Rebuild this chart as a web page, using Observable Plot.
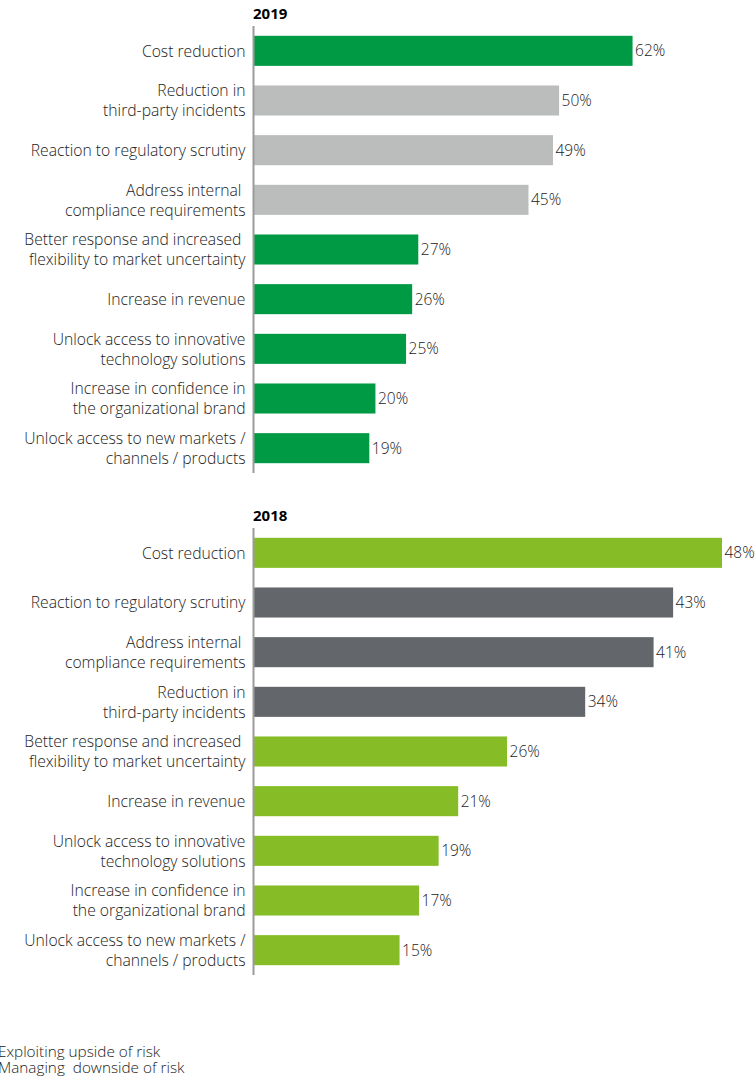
<!DOCTYPE html>
<html>
<head>
<meta charset="utf-8">
<script src="https://cdn.jsdelivr.net/npm/d3@7"></script>
<script src="https://cdn.jsdelivr.net/npm/@observablehq/plot@0.6"></script>
<style>
  html, body { margin: 0; padding: 0; background: #fff; }
  body { width: 755px; height: 1080px; position: relative; overflow: hidden; font-family: "Open Sans", sans-serif; }
  .panel { position: absolute; left: 0; width: 755px; z-index: 1; }
  .title { position: absolute; left: 253px; font-weight: 700; font-size: 15px; color: #000; line-height: 16px; z-index: 2; }
  .legend { position: absolute; left: -2px; top: 1043px; font-size: 15.3px; font-weight: 300; color: #222; line-height: 16px; z-index: 2; white-space: nowrap; }
  .legend div { height: 16px; }
  svg text { font-weight: 300; }
</style>
</head>
<body>
<div class="title" style="top:5px">2019</div>
<div class="panel" id="p2019" style="top:0px"></div>
<div class="title" style="top:507px">2018</div>
<div class="panel" id="p2018" style="top:502px"></div>
<div class="legend"><div>Exploiting upside of risk</div><div>Managing&nbsp; downside of risk</div></div>
<script>
const categories2019 = [
  "Cost reduction",
  "Reduction in\nthird-party incidents",
  "Reaction to regulatory scrutiny",
  "Address internal \ncompliance requirements",
  "Better response and increased \nflexibility to market uncertainty",
  "Increase in revenue",
  "Unlock access to innovative\ntechnology solutions",
  "Increase in confidence in\nthe organizational brand",
  "Unlock access to new markets /\nchannels / products"
];
const values2019 = [62, 50, 49, 45, 27, 26, 25, 20, 19];
const types2019 = ["upside", "downside", "downside", "downside", "upside", "upside", "upside", "upside", "upside"];

const categories2018 = [
  "Cost reduction",
  "Reaction to regulatory scrutiny",
  "Address internal \ncompliance requirements",
  "Reduction in\nthird-party incidents",
  "Better response and increased \nflexibility to market uncertainty",
  "Increase in revenue",
  "Unlock access to innovative\ntechnology solutions",
  "Increase in confidence in\nthe organizational brand",
  "Unlock access to new markets /\nchannels / products"
];
const values2018 = [48, 43, 41, 34, 26, 21, 19, 17, 15];
const types2018 = ["upside", "downside", "downside", "downside", "upside", "upside", "upside", "upside", "upside"];

const colors2019 = {upside: "#009a44", downside: "#bbbcbc"};
const colors2018 = {upside: "#86bc25", downside: "#63666a"};

function panel(cats, vals, types, colors, xmax) {
  const data = cats.map((c, i) => ({cat: c, value: vals[i], type: types[i]}));
  return Plot.plot({
    width: 755,
    height: 480,
    marginLeft: 253,
    marginRight: 0,
    marginTop: 26,
    marginBottom: 7,
    style: {fontFamily: "'Open Sans', sans-serif", fontSize: "16px", color: "#222", background: "transparent", overflow: "visible"},
    x: {domain: [0, xmax], axis: null},
    y: {domain: cats, paddingInner: 0.395, paddingOuter: 0.1975, round: false, label: null},
    marks: [
      Plot.barX(data, {y: "cat", x: "value", fill: d => colors[d.type]}),
      Plot.ruleX([0], {stroke: "#9b9b9b", strokeWidth: 2}),
      Plot.axisY({tickSize: 0, tickPadding: 8, fontSize: 15.7, lineHeight: 1.28, fill: "#222", dy: -1, label: null}),
      Plot.text(data, {y: "cat", x: "value", text: d => d.value + "%", textAnchor: "start", dx: 2, fontSize: 15.5, fill: "#222"})
    ]
  });
}

document.getElementById("p2019").appendChild(panel(categories2019, values2019, types2019, colors2019, 82.0));
document.getElementById("p2018").appendChild(panel(categories2018, values2018, types2018, colors2018, 51.38));
</script>
</body>
</html>
